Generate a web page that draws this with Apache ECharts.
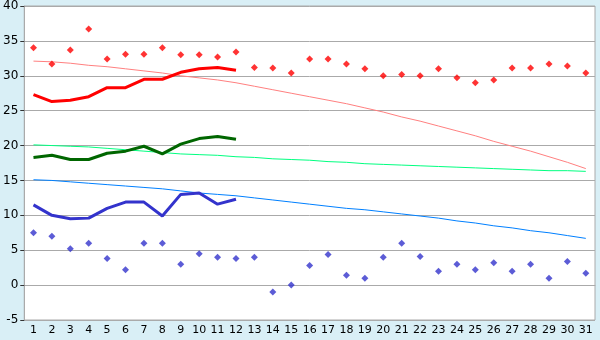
<!DOCTYPE html>
<html><head><meta charset="utf-8">
<script src="https://cdn.jsdelivr.net/npm/echarts@6/dist/echarts.min.js"></script>
<style>html,body{margin:0;padding:0;background:#d9eff6;}#c{width:600px;height:340px;}</style>
</head><body><div id="c"></div>
<script>
const days = Array.from({length:31},(_,i)=>String(i+1));
const yTicks = [-5,0,5,10,15,20,25,30,35,40];
const maxDaily = [34.0,31.7,33.7,36.7,32.4,33.1,33.1,34.0,33.0,33.0,32.7,33.4,31.2,31.1,30.4,32.4,32.4,31.7,31.0,30.0,30.2,30.0,31.0,29.7,29.0,29.4,31.1,31.1,31.7,31.4,30.4];
const maxAvg = [27.3,26.3,26.5,27.0,28.3,28.3,29.5,29.5,30.5,31.0,31.2,30.8];
const maxNormal = [32.1,32.0,31.8,31.5,31.3,31.0,30.7,30.4,30.0,29.7,29.4,29.0,28.5,28.0,27.5,27.0,26.5,26.0,25.4,24.8,24.1,23.5,22.8,22.1,21.4,20.6,19.9,19.2,18.4,17.6,16.7];
const meanAvg = [18.3,18.6,18.0,18.0,18.9,19.2,19.9,18.8,20.2,21.0,21.3,20.9];
const meanNormal = [20.1,20.0,19.9,19.8,19.6,19.4,19.2,19.0,18.8,18.7,18.6,18.4,18.3,18.1,18.0,17.9,17.7,17.6,17.4,17.3,17.2,17.1,17.0,16.9,16.8,16.7,16.6,16.5,16.4,16.4,16.3];
const minNormal = [15.1,15.0,14.8,14.6,14.4,14.2,14.0,13.8,13.5,13.2,13.0,12.8,12.5,12.2,11.9,11.6,11.3,11.0,10.8,10.5,10.2,9.9,9.6,9.2,8.9,8.5,8.2,7.8,7.5,7.1,6.7];
const minAvg = [11.5,10.0,9.5,9.6,11.0,11.9,11.9,9.9,13.0,13.2,11.6,12.3];
const minDaily = [7.5,7.0,5.2,6.0,3.8,2.2,6.0,6.0,3.0,4.5,4.0,3.8,4.0,-1.0,0.0,2.8,4.4,1.4,1.0,4.0,6.0,4.1,2.0,3.0,2.2,3.2,2.0,3.0,1.0,3.4,1.7];

const chart = echarts.init(document.getElementById('c'), null, {renderer:'canvas'});
const font = 'DejaVu Sans';
function line(data,color,width,z){return {type:'line',data:data,symbol:'none',lineStyle:{color:color,width:width},itemStyle:{color:color},z:z,animation:false,silent:true};}
function scat(data,color){return {type:'scatter',data:data,symbol:'diamond',symbolSize:7,itemStyle:{color:color},z:10,animation:false};}
chart.setOption({
  backgroundColor:'#d9eff6',
  animation:false,
  grid:{left:20,right:5,top:5,bottom:20,show:true,backgroundColor:'#ffffff',borderColor:'#aaaaaa',borderWidth:1},
  xAxis:{type:'category',data:days,boundaryGap:true,
    axisLine:{lineStyle:{color:'#aaaaaa'}},
    axisTick:{alignWithLabel:true,length:5,lineStyle:{color:'#333333'}},
    axisLabel:{color:'#000',fontFamily:font,fontSize:11,margin:5,interval:0},
    splitLine:{show:false}},
  yAxis:{type:'value',min:yTicks[0],max:yTicks[yTicks.length-1],interval:5,
    axisLine:{show:true,lineStyle:{color:'#aaaaaa'}},
    axisTick:{show:true,length:4,lineStyle:{color:'#333333'}},
    axisLabel:{color:'#000',fontFamily:font,fontSize:12,margin:6},
    splitLine:{lineStyle:{color:'#aaaaaa',width:1}}},
  series:[
    line(maxNormal,'#ff8080',1,2),
    line(meanNormal,'#00ff80',1,2),
    line(minNormal,'#0080ff',1,2),
    line(maxAvg,'#ff0000',3,3),
    line(meanAvg,'#006600',3,3),
    line(minAvg,'#3333cc',3,3),
    scat(maxDaily,'#ff0000'),
    scat(minDaily,'#3333cc')
  ]
});
</script></body></html>
